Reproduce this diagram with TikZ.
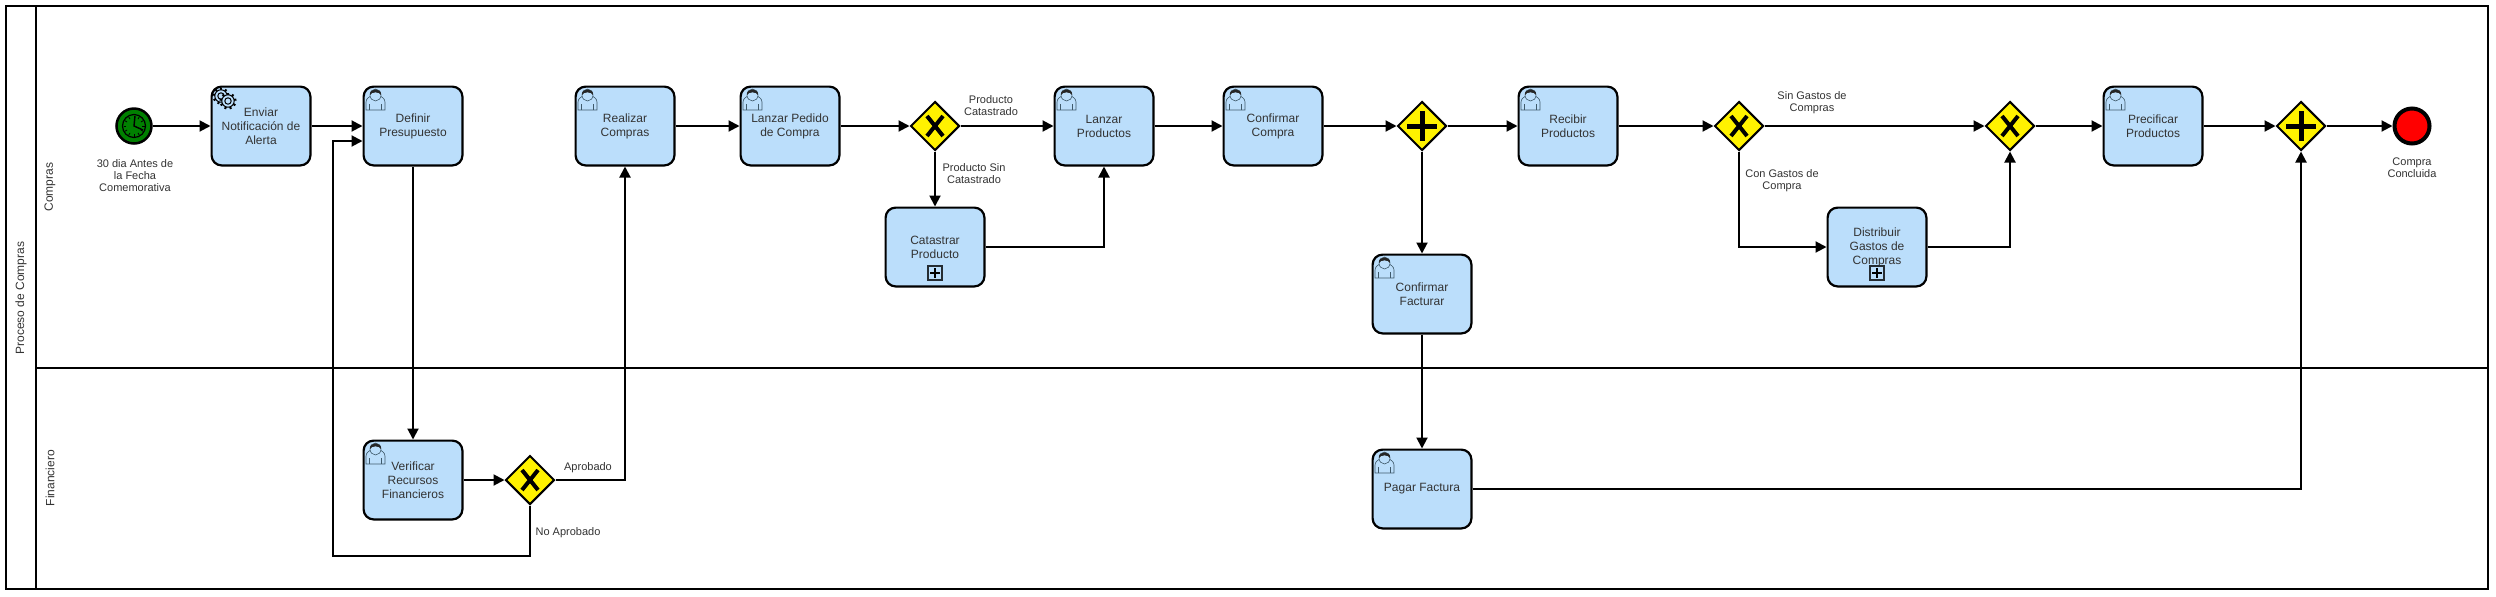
\documentclass[tikz,border=0pt]{standalone}
\usepackage{fontspec}
\setmainfont{Liberation Sans}
\usetikzlibrary{arrows.meta,shapes.geometric}
\definecolor{taskfill}{HTML}{BBDEFB}
\definecolor{txt}{HTML}{333333}
\definecolor{iconc}{HTML}{3F5A6B}
\definecolor{startg}{HTML}{008000}
\tikzset{
  x=0.5pt,y=-0.5pt,
  taskbox/.style={draw=black,line width=1.1pt,rounded corners=5pt,fill=taskfill,minimum width=49.4pt,minimum height=39.4pt,inner sep=0pt,align=center,text=txt,font=\fontsize{6}{7}\selectfont},
  flow/.style={draw=black,line width=1pt,-{Triangle[length=5.5pt,width=5.5pt]},rounded corners=0pt},
  gate/.style={diamond,draw=black,line width=1pt,fill=yellow,minimum width=24.5pt,minimum height=24.5pt,inner sep=0pt,aspect=1},
  lbl/.style={align=center,text=txt,inner sep=0pt,font=\fontsize{5.5}{6}\selectfont},
  lane/.style={draw=black,line width=1pt},
  lanetxt/.style={rotate=90,text=txt,inner sep=0pt,font=\fontsize{6}{7}\selectfont},
  xmark/.pic={\draw[black,line width=2pt] (-8,-10)--(8,10) (8,-10)--(-8,10);},
  plusmark/.pic={\draw[black,line width=2.5pt] (-15,0)--(15,0) (0,-15)--(0,15);},
  submark/.pic={\draw[black!80!taskfill,line width=.6pt,fill=taskfill] (-7,-7) rectangle (7,7);\draw[black,line width=1pt] (-5,0)--(5,0) (0,-5)--(0,5);},
  usericon/.pic={
    \draw[iconc,line width=.3pt,fill=taskfill] (0,21) -- (0,13) .. controls (0,9) and (4,8) .. (6,6) -- (13,6) .. controls (15,8) and (19,9) .. (19,13) -- (19,21) -- cycle;
    \draw[iconc,line width=.3pt] (3.5,21)--(3.5,15) (15.5,21)--(15.5,15);
    \draw[iconc,line width=.3pt,fill=taskfill] (9.5,6) ellipse (5.5 and 6);
    \fill[black!85] (4,6) .. controls (3,-1.5) and (16,-1.5) .. (15,6) .. controls (14,2.5) and (5,2.5) .. (4,6) -- cycle;
  },
  gearone/.pic={
    \foreach \a in {0,40,...,320}{\draw[black,line width=1pt,rotate=\a] (0,-5.2)--(0,-8.5);}
    \draw[black,line width=.5pt,fill=taskfill] (0,0) circle (6.2);
    \draw[black,line width=.5pt] (0,0) circle (3.2);
  },
}
\begin{document}
\begin{tikzpicture}
\useasboundingbox (0,0) rectangle (2496,596);
\fill[white] (0,0) rectangle (2496,596);
% pool and lanes
\coordinate (poolTL) at (6,6);
\coordinate (poolBR) at (2488,589);
\draw[lane] (poolTL) rectangle (poolBR);
\coordinate (hdT) at (36,6);
\coordinate (hdB) at (36,589);
\draw[lane] (hdT) -- (hdB);
\coordinate (laneL) at (36,368);
\coordinate (laneR) at (2488,368);
\draw[lane] (laneL) -- (laneR);
\node[lanetxt] (tpool) at (21,298) {Proceso de Compras};
\node[lanetxt] (tcompras) at (50,187) {Compras};
\node[lanetxt] (tfin) at (50,478) {Financiero};
% events
\node[circle,draw=black,line width=1.25pt,fill=startg,minimum size=17.5pt,inner sep=0pt] (start) at (134,126) {};
\draw[black,line width=.6pt,fill=startg] (start.center) circle (11.5);
\foreach \a in {0,30,...,330}{\draw[black,line width=.4pt,rotate around={\a:(start.center)}] (134,115.5)--(134,118);}
\draw[black,line width=.7pt] (135,116)--(134,126)--(143,130);
\node[circle,draw=black,line width=2pt,fill=red,minimum size=17.5pt,inner sep=0pt] (finish) at (2412,126) {};
% tasks
\node[taskbox] (enviar) at (261,126) {Enviar\\Notificación de\\Alerta};
\node[taskbox] (definir) at (413,126) {Definir\\Presupuesto};
\node[taskbox] (realizar) at (625,126) {Realizar\\Compras};
\node[taskbox] (pedido) at (790,126) {Lanzar Pedido\\de Compra};
\node[taskbox] (lanzar) at (1104,126) {Lanzar\\Productos};
\node[taskbox] (catastrar) at (935,247) {Catastrar\\Producto};
\node[taskbox] (confirmar) at (1273,126) {Confirmar\\Compra};
\node[taskbox] (facturar) at (1422,294) {Confirmar\\Facturar};
\node[taskbox] (recibir) at (1568,126) {Recibir\\Productos};
\node[taskbox] (distribuir) at (1877,247) {Distribuir\\Gastos de\\Compras};
\node[taskbox] (precificar) at (2153,126) {Precificar\\Productos};
\node[taskbox] (verificar) at (413,480) {Verificar\\Recursos\\Financieros};
\node[taskbox] (pagar) at (1422,489) {Pagar Factura};
% gateways
\node[gate] (g1) at (935,126) {};
\node[gate] (g2) at (530,480) {};
\node[gate] (g3) at (1422,126) {};
\node[gate] (g4) at (1739,126) {};
\node[gate] (g5) at (2010,126) {};
\node[gate] (g6) at (2301,126) {};
\pic at (g1.center) {xmark};
\pic at (g2.center) {xmark};
\pic at (g4.center) {xmark};
\pic at (g5.center) {xmark};
\pic at (g3.center) {plusmark};
\pic at (g6.center) {plusmark};
% icons
\pic at (366,89) {usericon};
\pic at (578,89) {usericon};
\pic at (743,89) {usericon};
\pic at (1057,89) {usericon};
\pic at (1226,89) {usericon};
\pic at (1375,257) {usericon};
\pic at (1521,89) {usericon};
\pic at (2106,89) {usericon};
\pic at (366,443) {usericon};
\pic at (1375,452) {usericon};
\pic at (221,96) {gearone};
\pic at (228,101) {gearone};
\pic at (935,273) {submark};
\pic at (1877,273) {submark};
% connectors
\draw[flow] (start) -- (enviar);
\draw[flow] (enviar) -- (definir);
\draw[flow] (definir) -- (verificar);
\draw[flow] (verificar) -- (g2);
\draw[flow] (g2.east) -| (realizar.south);
\coordinate (back1) at (333,556);
\coordinate (back2) at (333,141);
\draw[flow] (g2.south) |- (back1) -- (back2) -- (definir.west |- back2);
\draw[flow] (realizar) -- (pedido);
\draw[flow] (pedido) -- (g1);
\draw[flow] (g1) -- (lanzar);
\draw[flow] (g1) -- (catastrar);
\draw[flow] (catastrar.east) -| (lanzar.south);
\draw[flow] (lanzar) -- (confirmar);
\draw[flow] (confirmar) -- (g3);
\draw[flow] (g3) -- (recibir);
\draw[flow] (g3) -- (facturar);
\draw[flow] (facturar) -- (pagar);
\draw[flow] (recibir) -- (g4);
\draw[flow] (g4) -- (g5);
\draw[flow] (g4.south) |- (distribuir.west);
\draw[flow] (distribuir.east) -| (g5.south);
\draw[flow] (g5) -- (precificar);
\draw[flow] (precificar) -- (g6);
\draw[flow] (pagar.east) -| (g6.south);
\draw[flow] (g6) -- (finish);
% labels
\node[lbl] (l1) at (135,176) {30 dia Antes de\\la Fecha\\Comemorativa};
\node[lbl] (l2) at (991,106) {Producto\\Catastrado};
\node[lbl] (l3) at (974,174) {Producto Sin\\Catastrado};
\node[lbl] (l4) at (1812,103) {Sin Gastos de\\Compras};
\node[lbl] (l5) at (1782,181) {Con Gastos de\\Compra};
\node[lbl] (l6) at (588,468) {Aprobado};
\node[lbl] (l7) at (568,533) {No Aprobado};
\node[lbl] (l8) at (2412,168) {Compra\\Concluida};
\end{tikzpicture}
\end{document}
